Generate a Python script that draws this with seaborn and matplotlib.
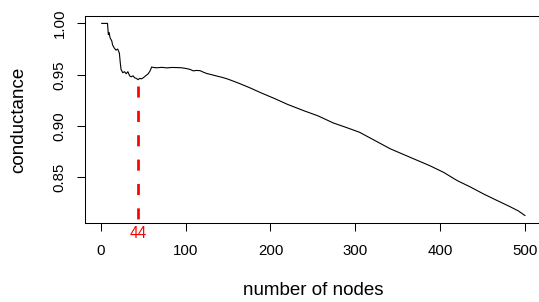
import seaborn as sns
import matplotlib.pyplot as plt
import pandas as pd

# conductance, by number of nodes in the set
nodes = [1, 8, 9, 10, 11, 13, 14, 16, 18, 20, 22, 23, 24, 26, 28, 30, 32, 34, 36, 38,
         40, 42, 44, 46, 48, 50, 53, 56, 58, 60, 63, 66, 72, 78, 84, 90, 95, 100, 105, 109,
         113, 117, 121, 125, 131, 137, 143, 149, 155, 165, 176, 190, 205, 220, 239, 256, 274,
         290, 305, 323, 341, 365, 388, 404, 420, 435, 451, 466, 482, 492, 500]
conductance = [1.000, 1.000, 0.989, 0.991, 0.986, 0.983, 0.979, 0.976, 0.974, 0.975,
               0.971, 0.962, 0.955, 0.952, 0.953, 0.951, 0.953, 0.949, 0.948, 0.949,
               0.947, 0.9465, 0.9452, 0.9465, 0.946, 0.947, 0.949, 0.951, 0.9535, 0.9575,
               0.957, 0.9568, 0.9572, 0.9567, 0.9571, 0.957, 0.9568, 0.9562, 0.9553, 0.9538,
               0.9542, 0.954, 0.9525, 0.9512, 0.950, 0.9487, 0.9475, 0.946, 0.9442, 0.941,
               0.9372, 0.932, 0.9268, 0.9212, 0.9151, 0.910, 0.9031, 0.8985, 0.894, 0.886,
               0.878, 0.8695, 0.8614, 0.855, 0.847, 0.841, 0.834, 0.828, 0.8217, 0.8175,
               0.8129]
best_k = 44
xticks = [0, 100, 200, 300, 400, 500]
yticks = [0.85, 0.90, 0.95, 1.00]

df = pd.DataFrame({"nodes": nodes, "conductance": conductance})

sns.set_style("ticks")
plt.rcParams["font.family"] = ["Liberation Sans", "DejaVu Sans"]
plt.rcParams["font.size"] = 10.8
# plain black text like base R graphics
for key in ["text.color", "axes.labelcolor", "xtick.color", "ytick.color", "axes.edgecolor"]:
    plt.rcParams[key] = "black"

fig = plt.figure(figsize=(5.39, 3.02), dpi=100)
ax = fig.add_axes([0.157, 0.2606, 0.8486, 0.6874])

sns.lineplot(data=df, x="nodes", y="conductance", color="black", linewidth=0.8, ax=ax)

# R-style 4% padding around the data range
xr = max(nodes) - min(nodes)
yr = max(conductance) - min(conductance)
ax.set_xlim(min(nodes) - 0.04 * xr, max(nodes) + 0.04 * xr)
ax.set_ylim(min(conductance) - 0.04 * yr, max(conductance) + 0.04 * yr)

# red dashed marker at the local minimum
best_val = df.loc[df["nodes"] == best_k, "conductance"].iloc[0]
ax.plot([best_k, best_k], [best_val, ax.get_ylim()[0]], color="red", linewidth=1.95,
        linestyle=(6.8, (4.1, 4.9)), solid_capstyle="butt")
ax.annotate(str(best_k), xy=(best_k, 0), xycoords=("data", "axes fraction"),
            xytext=(0, -7), textcoords="offset points", ha="center", va="center",
            color="red", fontsize=11.2)

ax.set_xticks(xticks)
ax.set_xticklabels([str(t) for t in xticks])
ax.set_yticks(yticks)
ax.set_yticklabels([f"{t:.2f}" for t in yticks], rotation=90, va="center")
ax.tick_params(axis="both", length=6, width=0.75, color="black", labelcolor="black",
               direction="out")
ax.tick_params(axis="x", pad=9)
ax.tick_params(axis="y", pad=7)

for side in ["left", "bottom", "top", "right"]:
    ax.spines[side].set_linewidth(0.75)
    ax.spines[side].set_color("black")

ax.set_xlabel("number of nodes", fontsize=13.5, labelpad=17, color="black")
ax.set_ylabel("conductance", fontsize=13.5, labelpad=18, color="black")

fig.savefig("out.png", dpi=100)
plt.close(fig)
